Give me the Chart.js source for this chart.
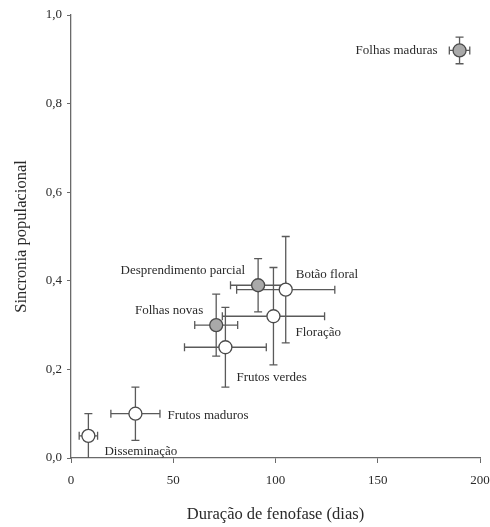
<!DOCTYPE html>
<html>
<head>
<meta charset="utf-8">
<script src="https://cdn.jsdelivr.net/npm/chart.js@4/dist/chart.umd.min.js"></script>
<style>
  body { margin: 0; background: #fff; }
</style>
</head>
<body>
<canvas id="grafico" width="490" height="527"></canvas>
<script>
// fenofases: duração (dias) x sincronia populacional, com erro nos dois eixos
const fenofases = ['Folhas maduras', 'Desprendimento parcial', 'Folhas novas', 'Botão floral',
  'Floração', 'Frutos verdes', 'Frutos maduros', 'Disseminação']
const duracao = [190, 91.5, 71, 105, 99, 75.5, 31.5, 8.5]
const duracaoErro = [5, 13.5, 10.5, 24, 25, 20, 12, 4.5]
const sincronia = [0.92, 0.39, 0.30, 0.38, 0.32, 0.25, 0.10, 0.05]
const sincroniaErro = [0.03, 0.06, 0.07, 0.12, 0.11, 0.09, 0.06, 0.05]
const vegetativa = [true, true, true, false, false, false, false, false]
const ticksX = [0, 50, 100, 150, 200]
const ticksY = ['0,0', '0,2', '0,4', '0,6', '0,8', '1,0']

// onde vai cada nome em relação ao ponto (px)
const posRotulos = [
  { dx: -22, dy: 0, lado: 'right' },
  { dx: -13, dy: -15, lado: 'right' },
  { dx: -13, dy: -15, lado: 'right' },
  { dx: 10, dy: -15, lado: 'left' },
  { dx: 22, dy: 16, lado: 'left' },
  { dx: 11, dy: 30, lado: 'left' },
  { dx: 32, dy: 2, lado: 'left' },
  { dx: 16, dy: 16, lado: 'left' }
]

const fonte = 'Liberation Serif'
const corEixo = '#6a6a6a'
const corTexto = '#2a2a2a'

const pontos = duracao.map((d, i) => ({ x: d, y: sincronia[i] }))

const barrasErro = {
  id: 'barrasErro',
  beforeDatasetsDraw(chart) {
    const ctx = chart.ctx
    const sx = chart.scales.x
    const sy = chart.scales.y
    const cap = 4
    ctx.save()
    ctx.strokeStyle = '#5a5a5a'
    ctx.lineWidth = 1.3
    pontos.forEach((p, i) => {
      const x0 = sx.getPixelForValue(p.x - duracaoErro[i])
      const x1 = sx.getPixelForValue(p.x + duracaoErro[i])
      const y0 = sy.getPixelForValue(Math.max(0, p.y - sincroniaErro[i]))
      const y1 = sy.getPixelForValue(p.y + sincroniaErro[i])
      const px = sx.getPixelForValue(p.x)
      const py = sy.getPixelForValue(p.y)
      ctx.beginPath()
      ctx.moveTo(x0, py); ctx.lineTo(x1, py)
      ctx.moveTo(x0, py - cap); ctx.lineTo(x0, py + cap)
      ctx.moveTo(x1, py - cap); ctx.lineTo(x1, py + cap)
      ctx.moveTo(px, y0); ctx.lineTo(px, y1)
      ctx.moveTo(px - cap, y1); ctx.lineTo(px + cap, y1)
      if (p.y - sincroniaErro[i] > 0) {
        ctx.moveTo(px - cap, y0); ctx.lineTo(px + cap, y0)
      }
      ctx.stroke()
    })
    ctx.restore()
  }
}

const rotulos = {
  id: 'rotulos',
  afterDatasetsDraw(chart) {
    const ctx = chart.ctx
    const sx = chart.scales.x
    const sy = chart.scales.y
    ctx.save()
    ctx.font = '13px "' + fonte + '"'
    ctx.fillStyle = corTexto
    ctx.textBaseline = 'middle'
    pontos.forEach((p, i) => {
      const pos = posRotulos[i]
      ctx.textAlign = pos.lado
      ctx.fillText(fenofases[i], sx.getPixelForValue(p.x) + pos.dx, sy.getPixelForValue(p.y) + pos.dy)
    })
    ctx.restore()
  }
}

new Chart(document.getElementById('grafico'), {
  type: 'scatter',
  data: {
    datasets: [{
      data: pontos,
      pointRadius: 6.5,
      pointBorderWidth: 1.3,
      pointBorderColor: '#4a4a4a',
      pointBackgroundColor: vegetativa.map(v => v ? '#a9a9a9' : '#ffffff')
    }]
  },
  options: {
    responsive: false,
    animation: false,
    layout: { padding: { top: 15, right: 10, bottom: 0, left: 0 } },
    plugins: { legend: { display: false }, tooltip: { enabled: false } },
    scales: {
      x: {
        type: 'linear',
        min: 0,
        max: 200,
        afterBuildTicks: s => { s.ticks = ticksX.map(v => ({ value: v })) },
        grid: { drawOnChartArea: false, tickLength: 5, color: corEixo },
        border: { color: corEixo, width: 1.3 },
        ticks: { padding: 10, color: corTexto, font: { family: fonte, size: 13 } },
        title: { display: true, text: 'Duração de fenofase (dias)', color: corTexto,
          font: { family: fonte, size: 16.5 }, padding: { top: 4, bottom: 2 } },
        afterFit: s => { s.height = 69; s.paddingLeft = 0; s.paddingRight = 0 }
      },
      y: {
        type: 'linear',
        min: 0,
        max: 1,
        afterBuildTicks: s => { s.ticks = ticksY.map((t, i) => ({ value: i * 0.2 })) },
        grid: { drawOnChartArea: false, tickLength: 4, color: corEixo },
        border: { color: corEixo, width: 1.3 },
        ticks: { padding: 5, color: corTexto, font: { family: fonte, size: 13 },
          callback: (v, i) => ticksY[i] },
        title: { display: true, text: 'Sincronia populacional', color: corTexto,
          font: { family: fonte, size: 16.5 }, padding: { top: 12, bottom: 0 } },
        afterFit: s => { s.width = 71; s.paddingTop = 0; s.paddingBottom = 0 }
      }
    }
  },
  plugins: [barrasErro, rotulos]
})
</script>
</body>
</html>
